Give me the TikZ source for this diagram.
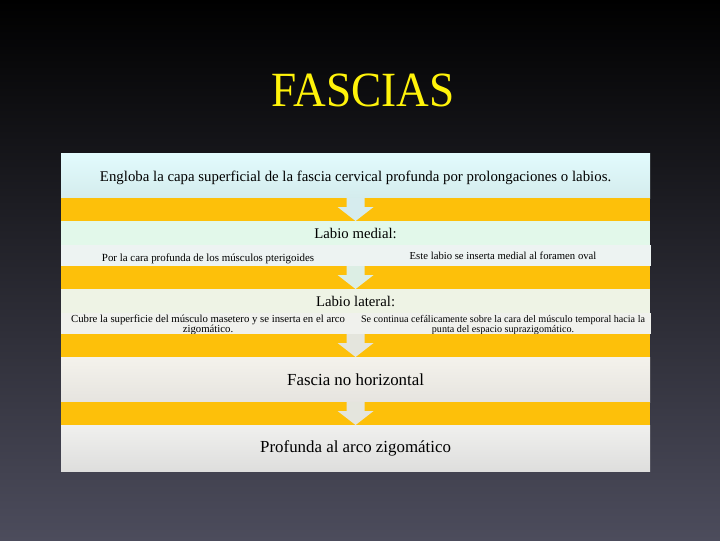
\documentclass[tikz,border=0pt]{standalone}
\usepackage{fontspec}
\setmainfont{Liberation Serif}
\usetikzlibrary{calc,positioning}
\definecolor{bandorange}{RGB}{253,192,10}
\definecolor{titleyellow}{RGB}{255,243,10}
\definecolor{cyantop}{RGB}{226,251,253}
\definecolor{cyanbot}{RGB}{212,236,237}
\definecolor{medgreen}{RGB}{226,248,234}
\definecolor{medsub}{RGB}{237,243,242}
\definecolor{latgreen}{RGB}{238,243,229}
\definecolor{latsub}{RGB}{240,241,237}
\definecolor{graytop}{RGB}{244,242,236}
\definecolor{graybot}{RGB}{230,228,223}
\definecolor{palegray}{RGB}{240,240,238}
\definecolor{midgray}{RGB}{222,222,221}
\definecolor{arrcyan}{RGB}{214,236,238}
\definecolor{arrmed}{RGB}{220,238,228}
\definecolor{arrgray}{RGB}{228,229,221}
\tikzset{every node/.style={inner sep=0pt,outer sep=0pt},
  bar/.style={rectangle,anchor=north west,minimum width=14.725cm},
  band/.style={bar,fill=bandorange,minimum height=0.575cm},
  half/.style={rectangle,anchor=north west,minimum height=0.525cm,align=center,
    font=\fontsize{7.65}{7.8}\selectfont}}
% block arrow inside an orange band
\newcommand{\bandarrow}[2]{%
  \fill[#2] ($(#1.north)+(-9,0)$) -- ($(#1.north)+(-9,9)$) -- ($(#1.north)+(-18,9)$)
    -- (#1.south) -- ($(#1.north)+(18,9)$) -- ($(#1.north)+(9,9)$)
    -- ($(#1.north)+(9,0)$) -- cycle;}
\newcommand{\lowered}[2]{\raisebox{-#1}[0pt][0pt]{#2}}
\newcommand{\twolines}[2]{\begin{tabular}{@{}c@{}}#1\\[-0.4pt]#2\end{tabular}}

\begin{document}
\begin{tikzpicture}[x=0.025cm,y=-0.025cm]
\shade[top color=black,middle color={rgb,255:red,14;green,14;blue,28},
  bottom color={rgb,255:red,76;green,76;blue,92}] (0,0) rectangle (720,540);
\node[text=titleyellow,font=\fontsize{35}{40}\selectfont] (title) at (363,90)
  {\scalebox{0.92}[1]{FASCIAS}};

\node[bar,minimum height=1.125cm,top color=cyantop,bottom color=cyanbot,
  font=\fontsize{10.55}{12}\selectfont] (engloba) at (61,153)
  {\lowered{4.2pt}{Engloba la capa superficial de la fascia cervical profunda por prolongaciones o labios.}};
\node[band] (band1) at (61,198) {};
\node[bar,minimum height=0.6cm,fill=medgreen,font=\fontsize{10.5}{12}\selectfont]
  (medial) at (61,221) {Labio medial:};
\node[half,minimum width=7.35cm,fill=medsub,font=\fontsize{7.75}{7.8}\selectfont]
  (medleft) at (61,245) {\lowered{4pt}{Por la cara profunda de los músculos pterigoides}};
\node[half,minimum width=7.4cm,fill=medsub,font=\fontsize{7.6}{7.8}\selectfont]
  (medright) at (355,245) {Este labio se inserta medial al foramen oval};
\node[band] (band2) at (61,266) {};
\node[bar,minimum height=0.6cm,fill=latgreen,font=\fontsize{10.5}{12}\selectfont]
  (lateral) at (61,289) {Labio lateral:};
\node[half,minimum width=7.35cm,fill=latsub] (latleft) at (61,313)
  {\lowered{3.1pt}{\twolines{Cubre la superficie del músculo masetero y se inserta en el arco}{zigomático.}}};
\node[half,minimum width=7.4cm,fill=latsub,font=\fontsize{7.2}{7.8}\selectfont]
  (latright) at (355,313)
  {\lowered{2.9pt}{\twolines{Se continua cefálicamente sobre la cara del músculo temporal hacia la}{punta del espacio suprazigomático.}}};
\node[band] (band3) at (61,334) {};
\node[bar,minimum height=1.125cm,top color=graytop,bottom color=graybot,
  font=\fontsize{12}{14}\selectfont] (nohoriz) at (61,357) {Fascia no horizontal};
\node[band] (band4) at (61,402) {};
\node[bar,minimum height=1.15cm,top color=palegray,bottom color=midgray,
  font=\fontsize{12}{14}\selectfont] (profunda) at (61,425) {Profunda al arco zigomático};

\bandarrow{band1}{arrcyan}
\bandarrow{band2}{arrmed}
\bandarrow{band3}{arrgray}
\bandarrow{band4}{arrgray}
\end{tikzpicture}
\end{document}
